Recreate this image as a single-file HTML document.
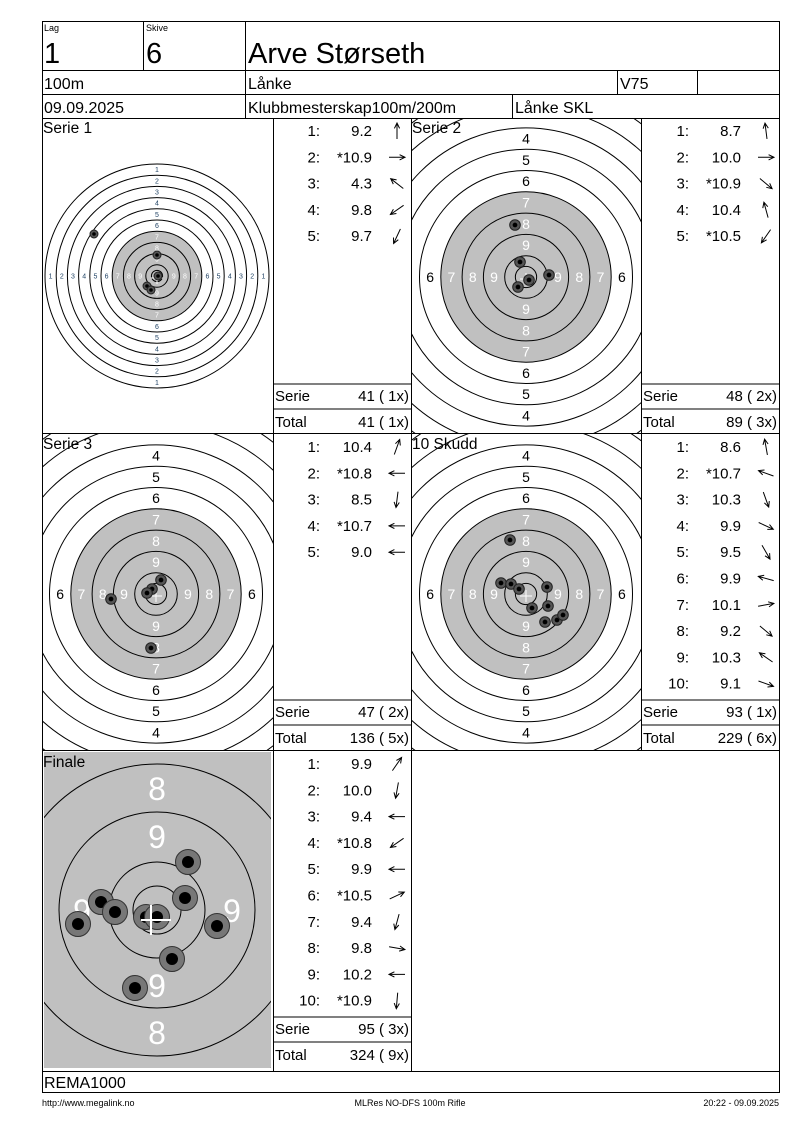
<!DOCTYPE html>
<html><head><meta charset="utf-8"><style>
html,body{margin:0;padding:0;background:#fff;width:800px;height:1130px;overflow:hidden}
svg{display:block;font-family:"Liberation Sans",Arial,sans-serif}
</style></head><body>
<svg id="s" width="800" height="1130" viewBox="0 0 800 1130" xmlns="http://www.w3.org/2000/svg"></svg>
<script>
var o='';
function T(x,y,t,sz,anc,fill){o+='<text x="'+x+'" y="'+y+'" font-size="'+sz+'"'+(anc?' text-anchor="'+anc+'"':'')+(fill?' fill="'+fill+'"':'')+'>'+t+'</text>';}
function L(x1,y1,x2,y2,w){o+='<line x1="'+x1+'" y1="'+y1+'" x2="'+x2+'" y2="'+y2+'" stroke="#000" stroke-width="'+(w||1)+'"/>';}
function C(x,y,r,f,st,w){o+='<circle cx="'+x+'" cy="'+y+'" r="'+r+'" fill="'+(f||'none')+'"'+(st?' stroke="'+st+'" stroke-width="'+(w||1)+'"':'')+'/>';}
var cid=0;
function target(cx,cy,s,x0,y0,w,h,small,shots,sr){
 cid++;o+='<clipPath id="c'+cid+'"><rect x="'+x0+'" y="'+y0+'" width="'+w+'" height="'+h+'"/></clipPath><g clip-path="url(#c'+cid+')">';
 C(cx,cy,4*s,'#c0c0c0');
 for(var k=1;k<=10;k++)C(cx,cy,(11-k)*s,'none','#000',1);
 C(cx,cy,s/2,'none','#000',1);
 var fs=small?7:14;
 for(var k=1;k<=9;k++){var r=(10.5-k)*s,col=k>=7?'#fff':(small?'#246':'#000');
  var dy=fs*0.36;
  if(small||k>=4){T(cx,cy-r+dy,k,fs,'middle',col);T(cx,cy+r+dy,k,fs,'middle',col);}
  if(small||k>=6){T(cx-r,cy+dy,k,fs,'middle',col);T(cx+r,cy+dy,k,fs,'middle',col);}}
 o+='<path d="M'+(cx-6)+' '+(cy+2)+'h12M'+cx+' '+(cy-4)+'v12" stroke="#fff" stroke-width="1"/>';
 shots.forEach(function(p){C(p[0],p[1],sr,'#555','#222',1);C(p[0],p[1],sr*0.45,'#000');});
 o+='</g>';
}
function arrow(x,y,a){var r=a*Math.PI/180,l=8,dx=Math.cos(r)*l,dy=Math.sin(r)*l;
 var x1=x-dx,y1=y-dy,x2=x+dx,y2=y+dy;
 var h=6,b1=r+Math.PI-0.45,b2=r+Math.PI+0.45;
 o+='<path d="M'+x1.toFixed(1)+' '+y1.toFixed(1)+'L'+x2.toFixed(1)+' '+y2.toFixed(1)+'M'+(x2+Math.cos(b1)*h).toFixed(1)+' '+(y2+Math.sin(b1)*h).toFixed(1)+'L'+x2.toFixed(1)+' '+y2.toFixed(1)+'L'+(x2+Math.cos(b2)*h).toFixed(1)+' '+(y2+Math.sin(b2)*h).toFixed(1)+'" stroke="#000" fill="none" stroke-width="1"/>';}
function list(xn,y0,rows,ax){rows.forEach(function(r,i){var y=y0+i*26.3;
 T(xn,y+5,r[0]+':',15,'end');T(xn+52,y+5,r[1],15,'end');arrow(ax,y,r[2]);});}
function tot(xl,xr,yl,s,t){L(xl,yl,xr,yl);L(xl,yl+25,xr,yl+25);
 T(xl+2,yl+17,'Serie',15);T(xr-2,yl+17,s,15,'end');T(xl+2,yl+43,'Total',15);T(xr-2,yl+43,t,15,'end');}

target(157,276,11.2,43,119,230,314,true,[[94,234],[157,255],[158,276],[147,286],[151,290]],4);
target(526,277,21.3,412,119,229,314,false,[[515,225],[520,262],[549,275],[529,280],[518,287]],5.3);
target(156,594,21.3,43,434,230,316,false,[[161,580],[152,589],[147,593],[111,599],[151,648]],5.3);
target(526,594,21.3,412,434,229,316,false,[[510,540],[501,583],[511,584],[519,589],[547,587],[532,608],[548,606],[545,622],[557,620],[563,615]],5.3);

o+='<clipPath id="cf"><rect x="44" y="752" width="227" height="316"/></clipPath><g clip-path="url(#cf)">';
o+='<rect x="44" y="752" width="227" height="316" fill="#c0c0c0"/>';
[24,48,98,146,195].forEach(function(r){C(157,910,r,'none','#000',1);});
T(157,800,'8',32,'middle','#fff');T(157,848,'9',32,'middle','#fff');T(157,997,'9',32,'middle','#fff');T(157,1044,'8',32,'middle','#fff');
T(232,922,'9',32,'middle','#fff');T(82,922,'9',32,'middle','#fff');
[[188,862],[185,898],[146,917],[157,917],[101,902],[115,912],[78,924],[217,926],[172,959],[135,988]].forEach(function(p){C(p[0],p[1],12.5,'#777','#333',1);C(p[0],p[1],6,'#000');});
o+='<path d="M141 920h30M151 905v30" stroke="#fff" stroke-width="2"/>';
o+='</g>';

list(320,131,[[1,'9.2',-90],[2,'*10.9',0],[3,'4.3',-142],[4,'9.8',145],[5,'9.7',115]],397);
tot(273,411,384,'41 ( 1x)','41 ( 1x)');
list(689,131,[[1,'8.7',-97],[2,'10.0',0],[3,'*10.9',40],[4,'10.4',-105],[5,'*10.5',125]],766);
tot(641,779,384,'48 ( 2x)','89 ( 3x)');
list(320,447,[[1,'10.4',-70],[2,'*10.8',180],[3,'8.5',97],[4,'*10.7',180],[5,'9.0',180]],397);
tot(273,411,700,'47 ( 2x)','136 ( 5x)');
list(689,447,[[1,'8.6',-100],[2,'*10.7',-160],[3,'10.3',70],[4,'9.9',25],[5,'9.5',60],[6,'9.9',-165],[7,'10.1',-10],[8,'9.2',40],[9,'10.3',-145],[10,'9.1',20]],766);
tot(641,779,700,'93 ( 1x)','229 ( 6x)');
list(320,764,[[1,'9.9',-55],[2,'10.0',100],[3,'9.4',180],[4,'*10.8',145],[5,'9.9',180],[6,'*10.5',-25],[7,'9.4',105],[8,'9.8',10],[9,'10.2',180],[10,'*10.9',95]],397);
tot(273,411,1017,'95 ( 3x)','324 ( 9x)');

o+='<rect x="42.5" y="21.5" width="737" height="1071" fill="none" stroke="#000"/>';
L(42,70.5,780,70.5);L(42,94.5,780,94.5);L(42,118.5,780,118.5);
L(143.5,21,143.5,70);L(245.5,21,245.5,118);L(617.5,70,617.5,94);L(697.5,70,697.5,94);L(512.5,94,512.5,118);
L(273.5,118,273.5,1072);L(411.5,118,411.5,1072);L(641.5,118,641.5,750);
L(42,433.5,780,433.5);L(42,750.5,780,750.5);L(42,1071.5,780,1071.5);
T(44,31,'Lag',9);T(146,31,'Skive',9);
T(44,63,'1',29);T(146,63,'6',29);T(248,63,'Arve Størseth',29);
T(44,89,'100m',16);T(248,89,'Lånke',16);T(620,89,'V75',16);
T(44,113,'09.09.2025',16);T(248,113,'Klubbmesterskap100m/200m',16);T(515,113,'Lånke SKL',16);
T(43,133,'Serie 1',15.5);T(412,133,'Serie 2',15.5);T(43,449,'Serie 3',15.5);T(412,449,'10 Skudd',15.5);T(43,767,'Finale',15.5);
T(44,1088,'REMA1000',16);
T(42,1106,'http://www.megalink.no',9);T(410,1106,'MLRes NO-DFS 100m Rifle',9,'middle');T(779,1106,'20:22 - 09.09.2025',9,'end');
document.getElementById('s').innerHTML=o;
</script>
</body></html>
